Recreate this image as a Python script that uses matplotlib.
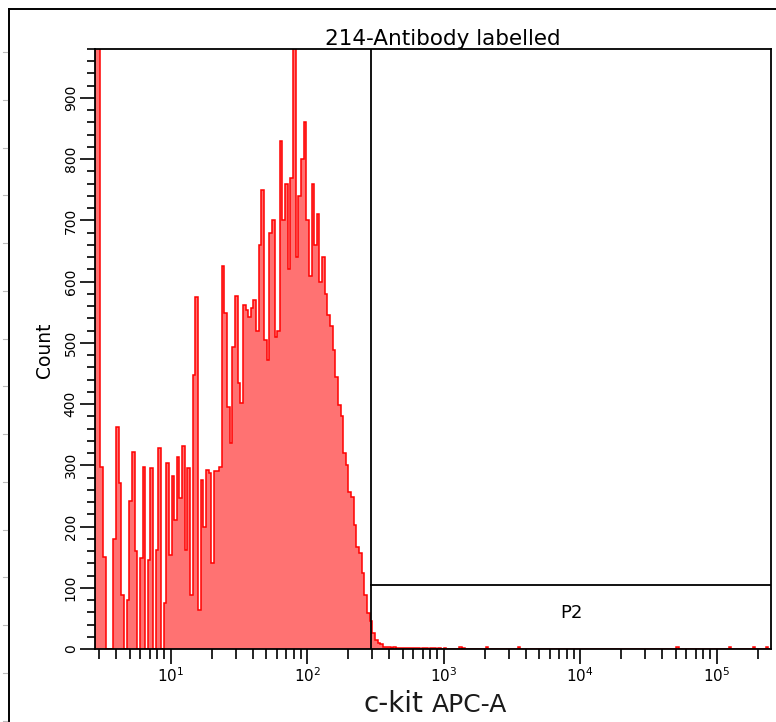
import numpy as np
import matplotlib.pyplot as plt
from matplotlib.lines import Line2D
from matplotlib.ticker import FixedLocator, LogLocator, MultipleLocator, NullFormatter

# display range of the log axis and the channel counts (256 log channels)
x_range = (2.79, 2.5e5)
counts = [
    1500, 1500, 298, 150, 0, 0, 0, 179, 363, 271, 88, 0, 80, 241, 322, 160,
    0, 148, 298, 0, 145, 295, 0, 162, 328, 0, 75, 304, 154, 283, 211, 313,
    246, 332, 162, 295, 88, 448, 575, 64, 276, 200, 292, 287, 140, 290, 290, 297,
    625, 548, 396, 336, 494, 576, 434, 401, 562, 554, 543, 557, 570, 520, 660, 750,
    505, 472, 680, 700, 510, 520, 830, 700, 760, 620, 770, 990, 640, 740, 800, 860,
    700, 610, 760, 660, 710, 600, 640, 580, 545, 527, 489, 445, 399, 380, 320, 301,
    257, 249, 203, 167, 156, 124, 88, 58, 45, 26, 15, 10, 8, 4, 3, 3,
    2, 3, 2, 2, 1, 2, 1, 1, 2, 1, 1, 0, 1, 1, 0, 1,
    1, 0, 1, 0, 1, 0, 0, 0, 0, 0, 3, 2, 0, 0, 0, 0,
    0, 0, 0, 0, 3, 0, 0, 0, 0, 0, 0, 0, 0, 0, 0, 0,
    3, 0, 0, 0, 0, 0, 0, 0, 0, 0, 0, 0, 0, 0, 0, 0,
    0, 0, 0, 0, 0, 0, 0, 0, 0, 0, 0, 0, 0, 0, 0, 0,
    0, 0, 0, 0, 0, 0, 0, 0, 0, 0, 0, 0, 0, 0, 0, 0,
    0, 0, 0, 0, 0, 0, 0, 0, 0, 0, 0, 0, 3, 0, 0, 0,
    0, 0, 0, 0, 0, 0, 0, 0, 0, 0, 0, 0, 0, 0, 0, 0,
    3, 0, 0, 0, 0, 0, 0, 0, 0, 3, 0, 0, 0, 0, 3, 0,
]
y_max = 980
y_ticks = [0, 100, 200, 300, 400, 500, 600, 700, 800, 900]
x_ticks = [10, 100, 1000, 10000, 100000]
x_ticklabels = ['$10^1$', '$10^2$', '$10^3$', '$10^4$', '$10^5$']

# P2 gate: lower bound on the x axis and the count level of the gate box
gate_x = 293
gate_y = 105
gate_name = 'P2'
title = '214-Antibody labelled'

W, H = 776, 722
fig = plt.figure(figsize=(W / 100, H / 100), dpi=100)
ax = fig.add_axes([95 / W, 73 / H, 676 / W, 600 / H])

edges = np.logspace(np.log10(x_range[0]), np.log10(x_range[1]), len(counts) + 1)
ax.stairs(counts, edges, fill=True, color='#ff7272', lw=0, zorder=1)
ax.stairs(counts, edges, color='#ff0000', lw=1.1, baseline=0, zorder=2)

ax.set_xscale('log')
ax.set_xlim(*x_range)
ax.set_ylim(0, y_max)

# gate lines
ax.axvline(gate_x, color='black', lw=1.3, zorder=3)
ax.plot([gate_x, x_range[1]], [gate_y, gate_y], color='black', lw=1.3, zorder=3)
ax.text(np.sqrt(gate_x * x_range[1]), gate_y * 0.56, gate_name,
        ha='center', va='center', fontsize=13)

for s in ax.spines.values():
    s.set_linewidth(1.3)
    s.set_zorder(4)

ax.yaxis.set_major_locator(FixedLocator(y_ticks))
ax.yaxis.set_minor_locator(MultipleLocator(20))
ax.set_yticklabels([str(v) for v in y_ticks])
ax.tick_params(axis='y', which='major', length=10.5, width=1.2, pad=2,
               labelsize=10, labelrotation=90)
ax.tick_params(axis='y', which='minor', length=5.5, width=1.2)
for lab in ax.get_yticklabels():
    lab.set_va('center')

ax.xaxis.set_major_locator(FixedLocator(x_ticks))
ax.xaxis.set_minor_locator(LogLocator(base=10, subs=np.arange(2, 10), numticks=20))
ax.xaxis.set_minor_formatter(NullFormatter())
ax.set_xticklabels(x_ticklabels)
ax.tick_params(axis='x', which='major', length=10.5, width=1.2, pad=2, labelsize=11)
ax.tick_params(axis='x', which='minor', length=7, width=1.2)

ax.set_title(title, fontsize=15.5, pad=3, x=0.515)
ax.set_ylabel('Count', fontsize=13.5)
ax.yaxis.set_label_coords(-0.061, 0.498)

fig.text(423 / W, 1 - 712 / H, 'c-kit', ha='right', va='baseline',
         fontsize=20, color='#1a1a1a')
fig.text(432 / W, 1 - 712 / H, 'APC-A', ha='left', va='baseline',
         fontsize=18, color='#1a1a1a')

# outer panel frame
fig.add_artist(Line2D([9 / W, 9 / W], [0, 1 - 9 / H], transform=fig.transFigure,
                      color='black', lw=1.4))
fig.add_artist(Line2D([9 / W, 1], [1 - 9 / H, 1 - 9 / H], transform=fig.transFigure,
                      color='black', lw=1.4))
for yy in np.arange(52, H, 47.75):
    fig.add_artist(Line2D([3 / W, 7 / W], [1 - yy / H, 1 - yy / H],
                          transform=fig.transFigure, color='#bbbbbb', lw=0.8))

fig.savefig('out.png', dpi=100)
